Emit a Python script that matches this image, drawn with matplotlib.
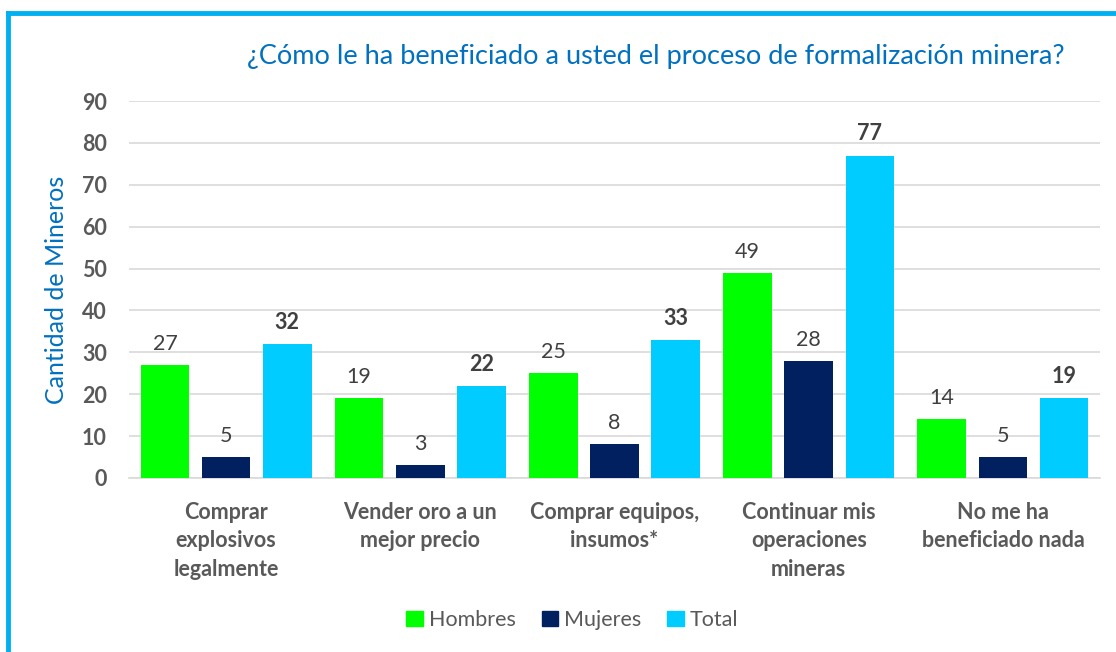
import matplotlib

matplotlib.use("Agg")
import matplotlib.pyplot as plt
import numpy as np
from matplotlib.lines import Line2D

plt.rcParams["font.family"] = ["Lato", "DejaVu Sans"]

# Datos
categorias = [
    "Comprar\nexplosivos\nlegalmente",
    "Vender oro a un\nmejor precio",
    "Comprar equipos,\ninsumos*",
    "Continuar mis\noperaciones\nmineras",
    "No me ha\nbeneficiado nada",
]
hombres = [27, 19, 25, 49, 14]
mujeres = [5, 3, 8, 28, 5]
total = [32, 22, 33, 77, 19]
yticks = [0, 10, 20, 30, 40, 50, 60, 70, 80, 90]

C_HOM = "#00FF00"
C_MUJ = "#002060"
C_TOT = "#00CCFF"
GRIS = "#595959"
AZUL = "#0070C0"

fig = plt.figure(figsize=(11.16, 6.52), dpi=100)
ax = fig.add_axes([0.1156, 0.2669, 0.8701, 0.5781])

x = np.arange(len(categorias))
off = 0.315
w = 0.25
series = [(hombres, C_HOM, "Hombres", -off, "normal"),
          (mujeres, C_MUJ, "Mujeres", 0, "normal"),
          (total, C_TOT, "Total", off, "bold")]
for vals, col, lab, dx, fw in series:
    bars = ax.bar(x + dx, vals, width=w, color=col, label=lab, zorder=3)
    for b, v in zip(bars, vals):
        ax.annotate(str(v), (b.get_x() + b.get_width() / 2, v),
                    xytext=(0, 8), textcoords="offset points",
                    ha="center", va="bottom", fontsize=15.5,
                    color="#404040", fontweight=fw)

ax.set_xlim(-0.5, len(categorias) - 0.5)
ax.set_ylim(0, 90)
ax.set_yticks(yticks)
ax.set_yticklabels([str(t) for t in yticks], fontsize=15.5,
                   fontweight="bold", color=GRIS)
ax.set_xticks(x)
ax.set_xticklabels(categorias, fontsize=15.5, fontweight="bold", color=GRIS,
                   linespacing=1.45, va="top")
ax.tick_params(axis="both", length=0)
ax.tick_params(axis="y", pad=16)
ax.tick_params(axis="x", pad=17)
ax.grid(axis="y", color="#D9D9D9", linewidth=1.2, zorder=0)
for s in ["top", "right", "left"]:
    ax.spines[s].set_visible(False)
ax.spines["bottom"].set_color("#D9D9D9")
ax.spines["bottom"].set_linewidth(1.2)

ax.set_ylabel("Cantidad de Mineros", fontsize=18, color=AZUL, labelpad=10)

fig.text(0.588, 0.913, "¿Cómo le ha beneficiado a usted el proceso de formalización minera?",
         ha="center", va="center", fontsize=19.5, color=AZUL)

handles = [plt.Rectangle((0, 0), 1, 1, color=c) for c in (C_HOM, C_MUJ, C_TOT)]
leg = fig.legend(handles, ["Hombres", "Mujeres", "Total"], loc="center",
                 bbox_to_anchor=(0.513, 0.049), ncol=3, frameon=False,
                 fontsize=15.5, handlelength=0.75, handleheight=0.75,
                 handletextpad=0.3, columnspacing=1.2)
for t in leg.get_texts():
    t.set_color(GRIS)

# marco
fig.add_artist(Line2D([0.0075, 1.0], [0.9805, 0.9805], color="#00B0F0",
                      linewidth=3.5, transform=fig.transFigure))
fig.add_artist(Line2D([0.0075, 0.0075], [0.0, 0.9805], color="#00B0F0",
                      linewidth=3.5, transform=fig.transFigure))

fig.savefig("out.png", dpi=100)
